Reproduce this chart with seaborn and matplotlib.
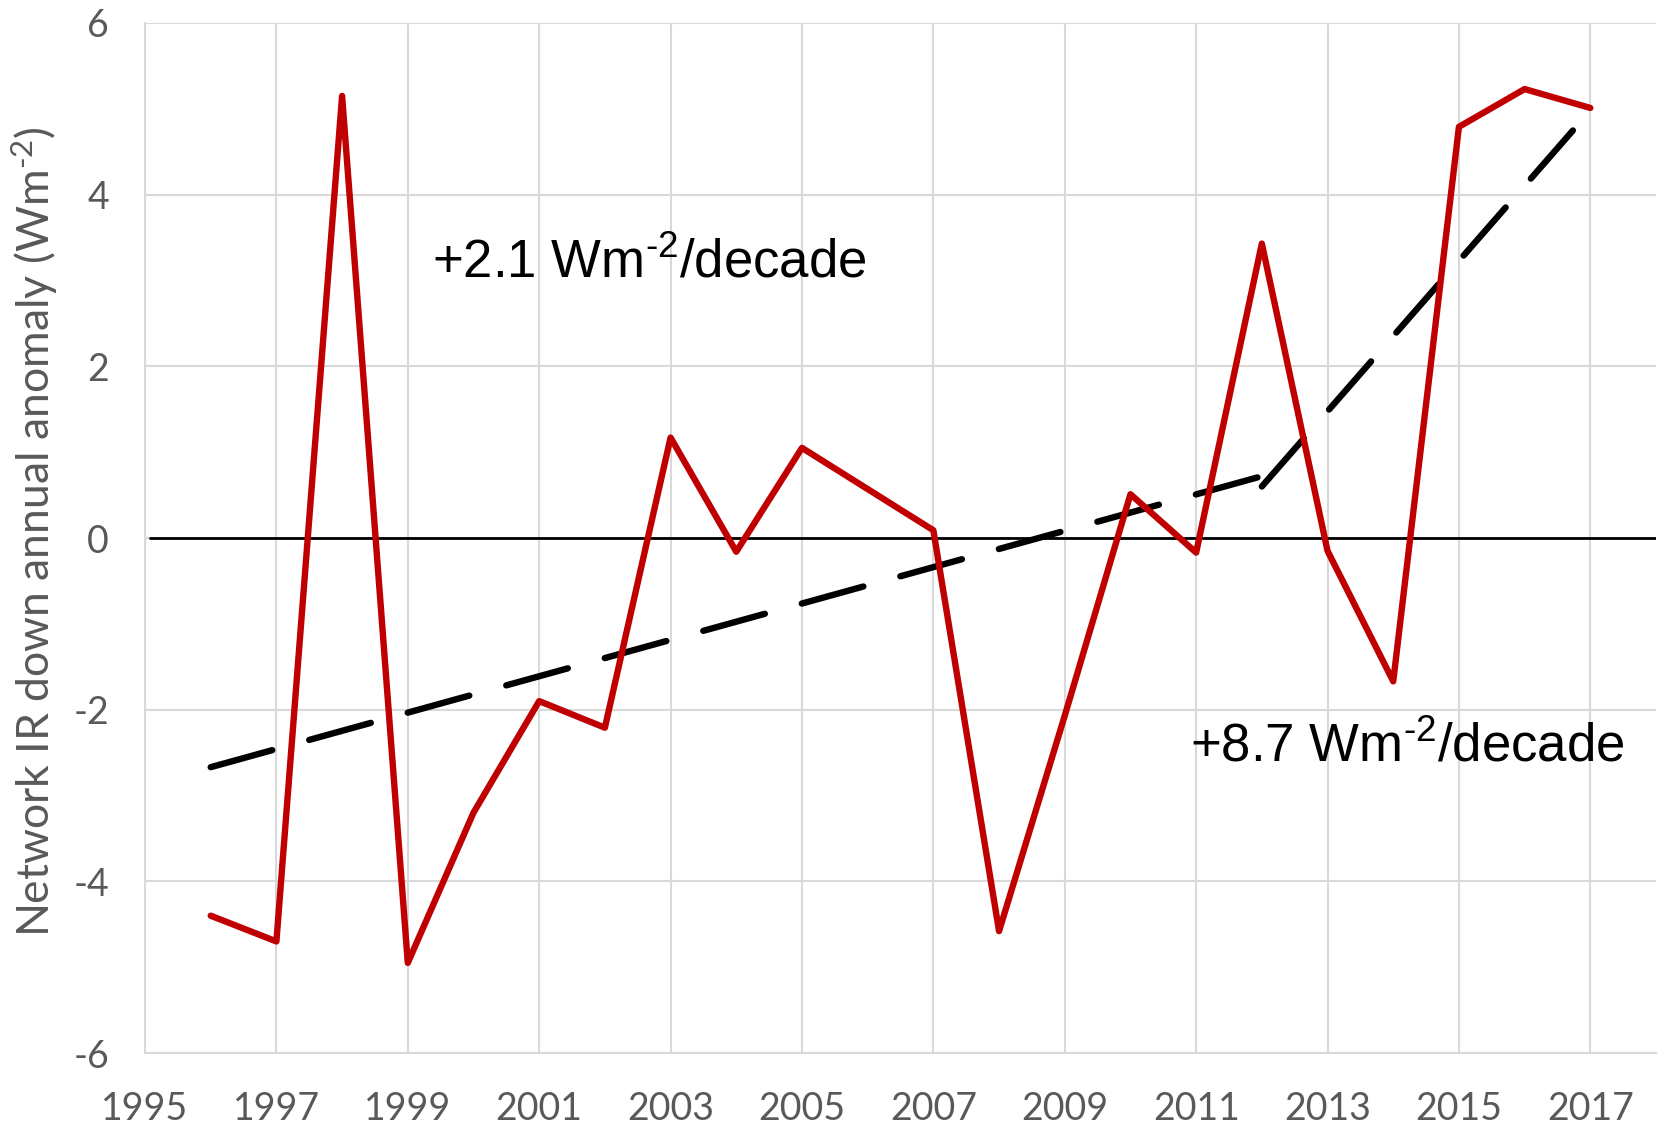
import matplotlib
matplotlib.use('Agg')
import matplotlib.pyplot as plt
import pandas as pd
import seaborn as sns

# annual anomaly values
years = [1996, 1997, 1998, 1999, 2000, 2001, 2002, 2003, 2004, 2005, 2006,
         2007, 2008, 2009, 2010, 2011, 2012, 2013, 2014, 2015, 2016, 2017]
anomaly = [-4.40, -4.70, 5.15, -4.95, -3.20, -1.90, -2.21, 1.17, -0.16, 1.05, 0.57,
           0.09, -4.58, -2.07, 0.51, -0.17, 3.43, -0.15, -1.67, 4.79, 5.23, 5.01]

# two trend segments
trend1_years = [1996, 2012]
trend1_vals = [-2.67, 0.72]
trend2_years = [2012, 2017]
trend2_vals = [0.60, 4.98]

x_ticks = list(range(1995, 2018, 2))
y_ticks = list(range(-6, 7, 2))

df = pd.DataFrame({'year': years, 'anomaly': anomaly})
df_t1 = pd.DataFrame({'year': trend1_years, 'val': trend1_vals})
df_t2 = pd.DataFrame({'year': trend2_years, 'val': trend2_vals})

sns.set_style('white')
plt.rcParams['font.family'] = ['Lato', 'DejaVu Sans']
plt.rcParams['axes.unicode_minus'] = False

fig = plt.figure(figsize=(16.61, 11.26), dpi=100)
ax = fig.add_axes([0.0873, 0.0648, 0.9097, 0.9148])

grid_col = '#d9d9d9'
text_col = '#595959'

for x in x_ticks:
    ax.axvline(x, color=grid_col, lw=1.5, zorder=0)
for y in y_ticks:
    ax.axhline(y, color=grid_col, lw=1.5, zorder=0)

ax.axhline(0, xmin=0.003, color='black', lw=2, zorder=1)

sns.lineplot(data=df, x='year', y='anomaly', ax=ax, color='#c00000', lw=4.6,
             solid_joinstyle='round', solid_capstyle='round', zorder=3)
for d in (df_t1, df_t2):
    sns.lineplot(data=d, x='year', y='val', ax=ax, color='black', lw=4.6,
                 dashes=False, zorder=2)
for line in ax.lines[-2:]:
    line.set_dashes([10, 6])
    line.set_dash_capstyle('round')

ax.set_xlim(1995, 2018)
ax.set_ylim(-6, 6)
ax.set_xticks(x_ticks)
ax.set_yticks(y_ticks)
ax.tick_params(axis='both', labelsize=27, colors=text_col, length=0)
ax.tick_params(axis='x', pad=27)
ax.tick_params(axis='y', pad=26)
ax.set_xlabel('')
ax.set_ylabel('Network IR down annual anomaly (Wm$\\mathregular{^{\u20102}}$)',
              fontsize=32, color=text_col)
ax.yaxis.set_label_coords(-0.056, 0.506)

for side in ['top', 'right']:
    ax.spines[side].set_visible(False)
for side in ['left', 'bottom']:
    ax.spines[side].set_color(grid_col)
    ax.spines[side].set_linewidth(1.5)

ax.text(1999.37, 3.2, '+2.1 Wm$\\mathregular{^{\u20102}}$/decade', fontsize=38,
        family=['Liberation Sans'], color='black', va='center', ha='left')
ax.text(2010.9, -2.44, '+8.7 Wm$\\mathregular{^{\u20102}}$/decade', fontsize=38,
        family=['Liberation Sans'], color='black', va='center', ha='left')

fig.savefig('out.png', dpi=100)
